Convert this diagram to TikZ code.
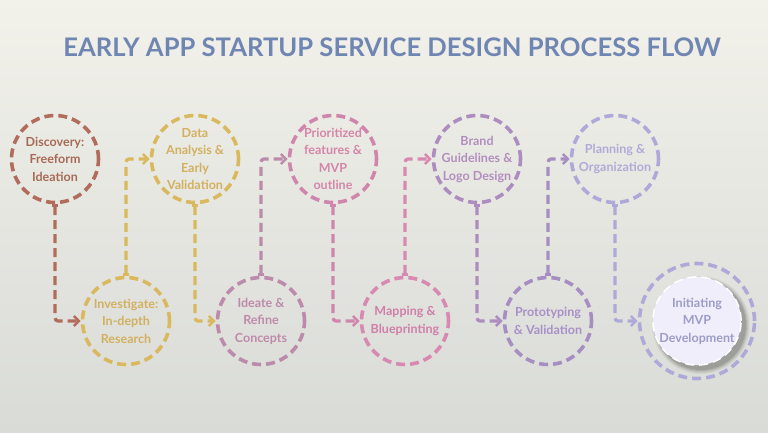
\documentclass[tikz,border=0pt]{standalone}
\usepackage{fontspec}
\setmainfont{Lato}
\usetikzlibrary{arrows.meta}

\definecolor{bgtop}{HTML}{F2F1EA}
\definecolor{bgbot}{HTML}{D9DBD7}
\definecolor{titleblue}{HTML}{7086B2}
\definecolor{discC}{HTML}{B26C5C}
\definecolor{discT}{HTML}{A86A55}
\definecolor{goldC}{HTML}{D9B85E}
\definecolor{goldT}{HTML}{D2B060}
\definecolor{mauveC}{HTML}{BC8AAA}
\definecolor{mauveT}{HTML}{BE8AAA}
\definecolor{pinkC}{HTML}{D086AC}
\definecolor{pinkT}{HTML}{D486A8}
\definecolor{rosyC}{HTML}{D889B1}
\definecolor{rosyT}{HTML}{CF7FA8}
\definecolor{brandC}{HTML}{AD8CC0}
\definecolor{brandT}{HTML}{B28EC0}
\definecolor{protoC}{HTML}{A68EC2}
\definecolor{protoT}{HTML}{A890C8}
\definecolor{planC}{HTML}{AEA9D9}
\definecolor{planT}{HTML}{B1AAD8}
\definecolor{goalT}{HTML}{9E9CC8}
\definecolor{goalF}{HTML}{EFEEFA}

\tikzset{
  stage/.style={circle, draw=#1, line width=3.6pt, dash pattern=on 9pt off 5pt,
    minimum size=87pt, inner sep=0pt, align=center,
    font=\bfseries\fontsize{12.5}{17.5}\selectfont},
  flow/.style={draw=#1, line width=3.2pt, dash pattern=on 9pt off 5pt, rounded corners=3pt,
    {Bar[width=6pt,line width=2.5pt]}-{Straight Barb[length=5pt,width=10pt,line width=2.6pt]}}
}

\begin{document}
\begin{tikzpicture}[x=1pt, y=-1pt]
    % fondo
    \shade[top color=bgtop, bottom color=bgbot] (0,0) rectangle (768,432);
    \useasboundingbox (0,0) rectangle (768,432);

    % titulo
    \node[font=\bfseries\fontsize{25.6}{30}\selectfont, text=titleblue] (title) at (392,47)
        {EARLY APP STARTUP SERVICE DESIGN PROCESS FLOW};

    % fila superior
    \node[stage=discC, text=discT] (disc) at (55,159) {Discovery:\\Freeform\\Ideation};
    \node[stage=goldC, text=goldT] (data) at (195,159) {Data\\Analysis \&\\Early\\Validation};
    \node[stage=pinkC, text=pinkT] (prio) at (333,159) {Prioritized\\features \&\\MVP\\outline};
    \node[stage=brandC, text=brandT] (brand) at (477,159) {Brand\\Guidelines \&\\Logo Design};
    \node[stage=planC, text=planT] (plan) at (615,159) {Planning \&\\Organization};

    % fila inferior
    \node[stage=goldC, text=goldT] (invest) at (126,321) {Investigate:\\In-depth\\Research};
    \node[stage=mauveC, text=mauveT] (ideate) at (261,321) {Ideate \&\\Refine\\Concepts};
    \node[stage=rosyC, text=rosyT] (mapping) at (405,321) {Mapping \&\\Blueprinting};
    \node[stage=protoC, text=protoT] (proto) at (548,321) {Prototyping\\\& Validation};

    % etapa final con anillo y sombra
    \coordinate (goalc) at (697,321);
    \foreach \r/\o in {49/0.04, 48/0.05, 47/0.06, 46/0.08, 45/0.10}
        \fill[black, opacity=\o] ([xshift=4pt,yshift=-4pt]goalc) circle (\r);
    \node[stage=planC, minimum size=115pt] (goal) at (goalc) {};
    \node[stage=white, fill=goalF, line width=1.5pt, text=goalT] (goalin) at (goalc)
        {Initiating\\MVP\\Development};

    % conectores
    \draw[flow=discC] (disc.south) |- (invest.west);
    \draw[flow=goldC] (invest.north) |- (data.west);
    \draw[flow=goldC] (data.south) |- (ideate.west);
    \draw[flow=mauveC] (ideate.north) |- (prio.west);
    \draw[flow=pinkC] (prio.south) |- (mapping.west);
    \draw[flow=rosyC] (mapping.north) |- (brand.west);
    \draw[flow=brandC] (brand.south) |- (proto.west);
    \draw[flow=protoC] (proto.north) |- (plan.west);
    \draw[flow=planC] (plan.south) |- (goal.west);
\end{tikzpicture}
\end{document}
